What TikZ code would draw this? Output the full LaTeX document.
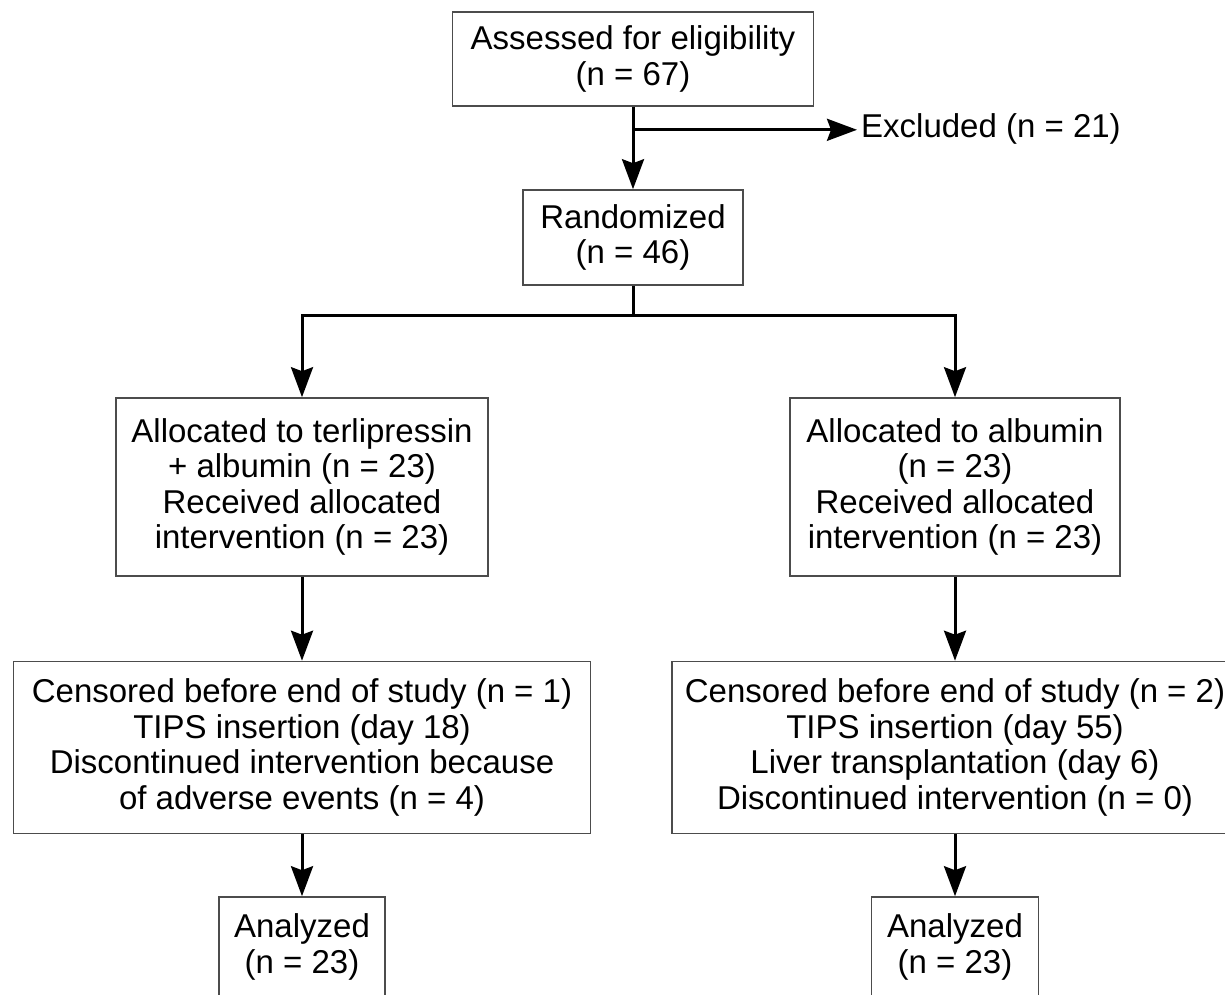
\documentclass[tikz,border=0pt]{standalone}
\usepackage{fontspec}
\setmainfont{Liberation Sans}
\usetikzlibrary{arrows.meta}

\begin{document}
\begin{tikzpicture}[x=1pt, y=-1pt,
                    box/.style={draw=black!70, line width=1.6pt, align=center, inner sep=0pt},
                    flow/.style={line width=3pt, -{Stealth[length=30pt, width=22pt, inset=4pt]}},
                    every node/.style={font=\fontsize{33}{35.5}\selectfont}]
                \useasboundingbox (0,0) rectangle (1225,994);
                \clip (0,0) rectangle (1225,994);

                \node[box, minimum width=361pt, minimum height=94pt] (assess) at (633,59) {Assessed for eligibility\\(n = 67)};
                \node[box, minimum width=220pt, minimum height=95pt] (rand) at (633,237.5) {Randomized\\(n = 46)};
                \node[anchor=west, inner sep=4pt] (excl) at (857,129) {Excluded (n = 21)};

                \node[box, minimum width=372pt, minimum height=178pt] (terli) at (302,487) {Allocated to terlipressin\\+ albumin (n = 23)\\Received allocated\\intervention (n = 23)};
                \node[box, minimum width=330pt, minimum height=178pt] (albu) at (955,487) {Allocated to albumin\\(n = 23)\\Received allocated\\intervention (n = 23)};

                \node[box, minimum width=577pt, minimum height=172pt] (cens1) at (302,747.5) {Censored before end of study (n = 1)\\TIPS insertion (day 18)\\Discontinued intervention because\\of adverse events (n = 4)};
                \node[box, minimum width=566pt, minimum height=172pt] (cens2) at (955,747.5) {Censored before end of study (n = 2)\\TIPS insertion (day 55)\\Liver transplantation (day 6)\\Discontinued intervention (n = 0)};

                \node[box, minimum width=166pt, minimum height=100pt] (anal1) at (302,947) {Analyzed\\(n = 23)};
                \node[box, minimum width=167pt, minimum height=100pt] (anal2) at (955,947) {Analyzed\\(n = 23)};

                \draw[flow] (assess) -- (rand);
                \path (assess.south) ++(0,23) coordinate (split);
                \draw[flow] (split) -- (split -| excl.west);

                \draw[line width=3pt] (rand.south) -- ++(0,30) coordinate (fork);
                \draw[flow] (fork) -| (terli);
                \draw[flow] (fork) -| (albu);

                \draw[flow] (terli) -- (cens1);
                \draw[flow] (albu) -- (cens2);
                \draw[flow] (cens1) -- (anal1);
                \draw[flow] (cens2) -- (anal2);
            \end{tikzpicture}
\end{document}
